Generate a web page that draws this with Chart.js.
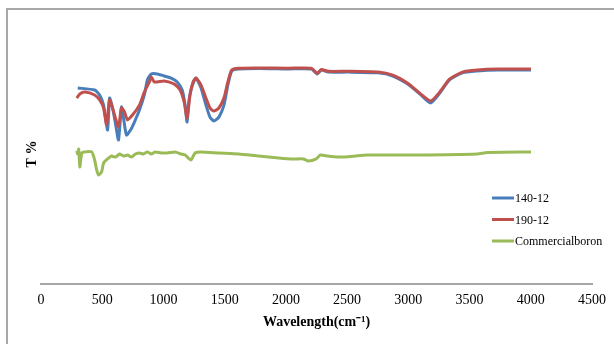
<!DOCTYPE html>
<html>
<head>
<meta charset="utf-8">
<script src="https://cdn.jsdelivr.net/npm/chart.js@4"></script>
<style>
    body { margin: 0; background: #fff; }
    #wrap { position: relative; width: 614px; height: 344px; }
    #frame {
        position: absolute; left: 6px; top: 8px; width: 640px; height: 360px;
        border-left: 2px solid #a8a8a8; border-top: 2px solid #a8a8a8;
        pointer-events: none;
    }
</style>
</head>
<body>
<div id="wrap">
    <canvas id="irChart" width="614" height="344"></canvas>
    <div id="frame"></div>
</div>
<script>
const xTicks = [0, 500, 1000, 1500, 2000, 2500, 3000, 3500, 4000, 4500];

const wn140 = [300, 438, 479, 511, 544, 560, 585, 610, 633, 657, 674, 698, 731, 763, 804, 844, 869, 901, 950, 1006, 1063, 1112, 1153, 1177, 1193, 1209, 1234, 1266, 1307, 1347, 1380, 1412, 1453, 1494, 1526, 1558, 1615, 1778, 2021, 2208, 2256, 2289, 2346, 2508, 2752, 2873, 2995, 3093, 3182, 3263, 3336, 3442, 3563, 3726, 4002];
const t140 = [75.4, 74.6, 72.7, 68.8, 59.2, 71.5, 67.7, 61.2, 55.4, 68.1, 63.8, 57.3, 59.2, 62.3, 66.9, 72.7, 78.5, 80.8, 80.8, 80.0, 79.2, 77.7, 74.6, 68.8, 62.3, 70.8, 76.2, 79.2, 75.4, 68.8, 64.2, 62.7, 64.2, 68.8, 76.5, 81.9, 82.7, 82.9, 82.7, 82.7, 80.8, 82.3, 81.5, 81.5, 81.2, 80.0, 76.9, 73.1, 69.6, 73.8, 78.5, 81.2, 81.9, 82.3, 82.3];

const wn190 = [292, 317, 357, 438, 479, 511, 536, 560, 593, 633, 657, 682, 706, 747, 804, 844, 885, 901, 925, 1006, 1088, 1136, 1169, 1193, 1217, 1242, 1266, 1307, 1347, 1380, 1412, 1453, 1494, 1526, 1558, 1615, 1778, 2021, 2208, 2256, 2289, 2346, 2508, 2752, 2873, 2995, 3093, 3182, 3263, 3336, 3442, 3563, 3726, 4002];
const t190 = [71.5, 73.1, 73.8, 72.7, 70.8, 67.7, 61.2, 70.8, 66.2, 60.4, 67.7, 66.2, 63.1, 65.0, 68.8, 73.8, 77.7, 79.6, 77.7, 78.1, 76.9, 74.6, 70.0, 63.8, 72.7, 77.7, 79.2, 76.5, 71.5, 67.7, 66.5, 67.7, 71.5, 77.7, 82.3, 83.0, 83.1, 83.0, 83.0, 81.0, 82.5, 81.8, 81.8, 81.5, 80.3, 77.2, 73.4, 70.4, 74.2, 78.8, 81.5, 82.3, 82.7, 82.7];

const wnBoron = [292, 300, 308, 317, 333, 357, 414, 438, 455, 471, 495, 511, 544, 576, 609, 641, 674, 706, 739, 771, 804, 836, 869, 901, 933, 982, 1031, 1096, 1144, 1177, 1225, 1258, 1307, 1453, 1615, 1778, 1940, 2062, 2143, 2183, 2248, 2281, 2346, 2468, 2670, 3076, 3563, 3645, 4002];
const tBoron = [51.2, 50.0, 51.9, 45.0, 50.4, 50.8, 50.8, 47.7, 43.8, 41.9, 43.1, 46.5, 48.1, 49.2, 48.8, 50.0, 49.2, 49.6, 48.8, 50.0, 50.4, 50.0, 50.8, 50.0, 50.8, 50.4, 50.4, 50.8, 50.0, 49.6, 47.7, 50.4, 50.8, 50.4, 50.0, 49.2, 48.5, 48.1, 48.1, 47.3, 48.1, 49.6, 49.2, 48.8, 49.6, 49.6, 50.0, 50.6, 50.8];

const seriesNames = ['140-12', '190-12', 'Commercialboron'];
const seriesColors = ['#4a7ebb', '#c0504d', '#9bbb59'];

const toPoints = (xs, ys) => xs.map((x, i) => ({ x: x, y: ys[i] }));

// legend drawn inside the plot, on the right like the original
const sideLegend = {
    id: 'sideLegend',
    afterDraw(chart) {
        const ctx = chart.ctx;
        ctx.save();
        ctx.font = '12px "Liberation Serif", "Times New Roman", serif';
        ctx.textBaseline = 'middle';
        chart.data.datasets.forEach((ds, i) => {
            const y = 198 + i * 21.5;
            ctx.strokeStyle = ds.borderColor;
            ctx.lineWidth = 3;
            ctx.beginPath();
            ctx.moveTo(492, y);
            ctx.lineTo(514, y);
            ctx.stroke();
            ctx.fillStyle = '#000';
            ctx.fillText(ds.label, 515, y + 1);
        });
        ctx.restore();
    },
};

const ctx = document.getElementById('irChart').getContext('2d');
// eslint-disable-next-line no-undef
new Chart(ctx, {
    type: 'line',
    data: {
        datasets: [
            { label: seriesNames[0], data: toPoints(wn140, t140), borderColor: seriesColors[0], order: 1 },
            { label: seriesNames[1], data: toPoints(wn190, t190), borderColor: seriesColors[1], order: 0 },
            { label: seriesNames[2], data: toPoints(wnBoron, tBoron), borderColor: seriesColors[2], order: 2 },
        ],
    },
    options: {
        responsive: false,
        animation: false,
        events: [],
        elements: {
            point: { radius: 0 },
            line: { borderWidth: 3, tension: 0.2, fill: false },
        },
        layout: { padding: { left: 20, right: 19, top: 24, bottom: 0 } },
        plugins: {
            legend: { display: false },
            tooltip: { enabled: false },
        },
        scales: {
            x: {
                type: 'linear',
                min: 0,
                max: 4500,
                afterBuildTicks: (scale) => {
                    scale.ticks = xTicks.map((v) => ({ value: v }));
                },
                afterFit: (scale) => {
                    scale.height = 60;
                },
                grid: { display: false, drawTicks: false },
                border: { color: '#a6a6a6', width: 2 },
                ticks: {
                    padding: 8,
                    color: '#000',
                    maxRotation: 0,
                    callback: (v) => String(v),
                    font: { family: '"Liberation Serif", "Times New Roman", serif', size: 14 },
                },
                title: {
                    display: true,
                    text: 'Wavelength(cm\u207B\u00B9)',
                    color: '#000',
                    padding: { top: 4, bottom: 13 },
                    font: { family: '"Liberation Serif", "Times New Roman", serif', size: 14, weight: 'bold' },
                },
            },
            y: {
                min: 0,
                max: 100,
                afterFit: (scale) => {
                    scale.width = 21;
                },
                grid: { display: false, drawTicks: false },
                border: { display: false },
                ticks: { display: false },
                title: {
                    display: true,
                    text: 'T %',
                    color: '#000',
                    padding: { top: 4, bottom: 4 },
                    font: { family: '"Liberation Serif", "Times New Roman", serif', size: 14, weight: 'bold' },
                },
            },
        },
    },
    plugins: [sideLegend],
});
</script>
</body>
</html>
